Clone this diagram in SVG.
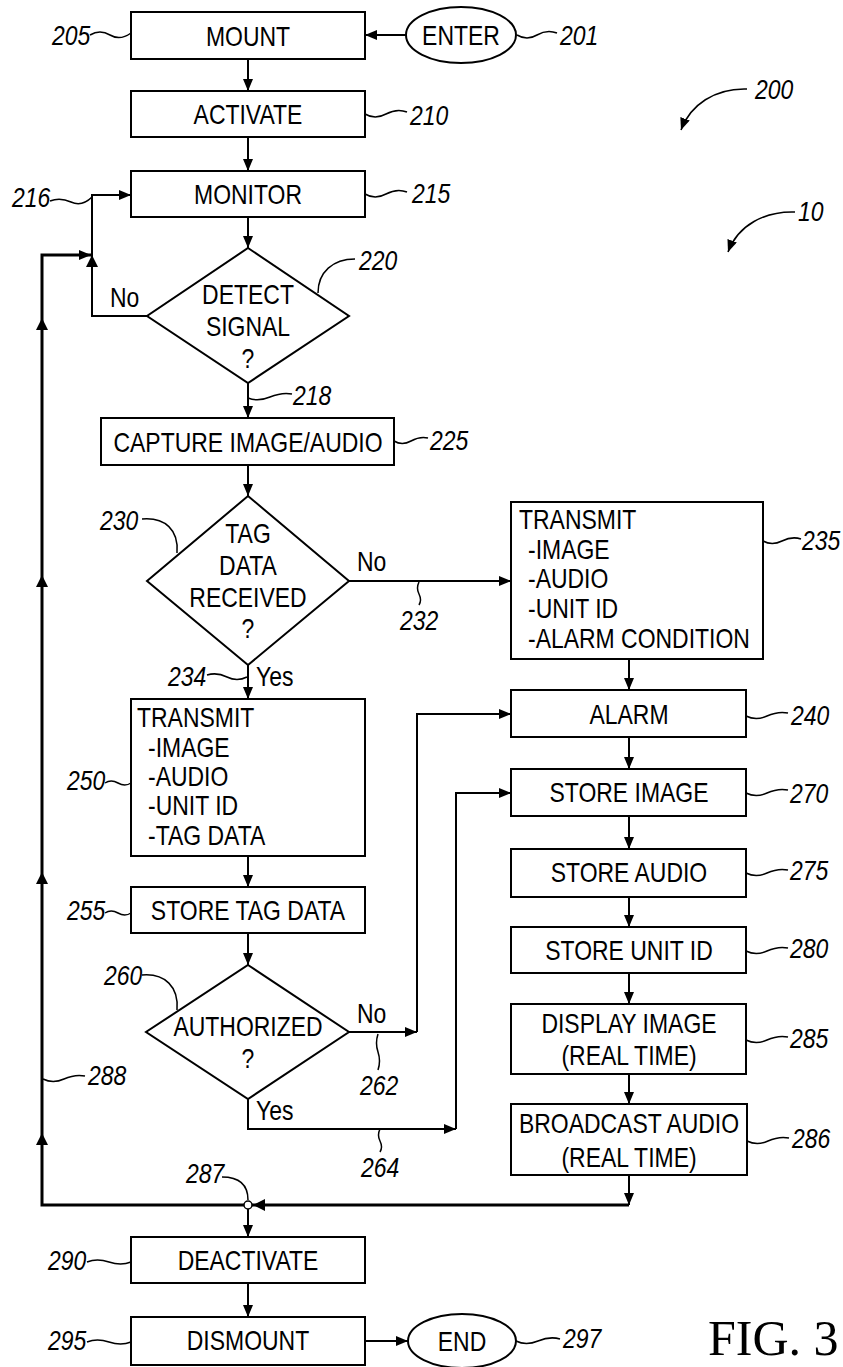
<svg xmlns="http://www.w3.org/2000/svg" width="843" height="1367" viewBox="0 0 843 1367">
<style>
.bx{fill:#fff;stroke:#000;stroke-width:2}
.ln{fill:none;stroke:#000;stroke-width:2}
.thk{fill:none;stroke:#000;stroke-width:3}
.ld{fill:none;stroke:#000;stroke-width:1.5}
.t{font-family:"Liberation Sans",Arial,sans-serif;font-size:28px;fill:#000}
.c{text-anchor:middle}
.n{font-style:italic}
.fig{font-family:"Liberation Serif","Times New Roman",serif;font-size:50px;fill:#000}
</style>
<defs>
<marker id="ah" markerUnits="userSpaceOnUse" markerWidth="12" markerHeight="10" refX="12" refY="5" orient="auto">
<path d="M0,0 L12,5 L0,10 z" fill="#000"/>
</marker>
</defs>
<rect width="843" height="1367" fill="#fff"/>

<g id="connectors">
<path class="ln" d="M406,35 H365" marker-end="url(#ah)"/>
<path class="ln" d="M248,59 V91" marker-end="url(#ah)"/>
<path class="ln" d="M248,137 V171" marker-end="url(#ah)"/>
<path class="ln" d="M248,217 V248" marker-end="url(#ah)"/>
<path class="ln" d="M147,316 H92 V195 H131" marker-end="url(#ah)"/>
<path class="ln" d="M248,383 V418" marker-end="url(#ah)"/>
<path class="ln" d="M248,465 V496" marker-end="url(#ah)"/>
<path class="ln" d="M349,581 H511" marker-end="url(#ah)"/>
<path class="ln" d="M248,665 V699" marker-end="url(#ah)"/>
<path class="ln" d="M629,659 V690" marker-end="url(#ah)"/>
<path class="ln" d="M629,737 V769" marker-end="url(#ah)"/>
<path class="ln" d="M248,856 V887" marker-end="url(#ah)"/>
<path class="ln" d="M248,933 V965" marker-end="url(#ah)"/>
<path class="ln" d="M349,1032 H417" marker-end="url(#ah)"/>
<path class="ln" d="M417,1032 V714 H511" marker-end="url(#ah)"/>
<path class="ln" d="M248,1099 V1129 H456" marker-end="url(#ah)"/>
<path class="ln" d="M456,1129 V793 H511" marker-end="url(#ah)"/>
<path class="ln" d="M629,816 V849" marker-end="url(#ah)"/>
<path class="ln" d="M629,897 V927" marker-end="url(#ah)"/>
<path class="ln" d="M629,973 V1004" marker-end="url(#ah)"/>
<path class="ln" d="M629,1074 V1104" marker-end="url(#ah)"/>
<path class="ln" d="M629,1175 V1205" marker-end="url(#ah)"/>
<path class="thk" d="M629,1205 H42 V255 H91" marker-end="url(#ah)"/>
<polygon points="253,1205 265,1199 265,1211" fill="#000"/>
<polygon points="42,318 36,330 48,330" fill="#000"/>
<polygon points="42,575 36,587 48,587" fill="#000"/>
<polygon points="42,872 36,884 48,884" fill="#000"/>
<polygon points="42,1133 36,1145 48,1145" fill="#000"/>
<polygon points="92,255 86,267 98,267" fill="#000"/>
<circle cx="248" cy="1205" r="4" fill="#fff" stroke="#000" stroke-width="1.5"/>
<path class="ln" d="M248,1209 V1237" marker-end="url(#ah)"/>
<path class="ln" d="M248,1283 V1317" marker-end="url(#ah)"/>
<path class="ln" d="M365,1341 H408" marker-end="url(#ah)"/>
<path class="ld" d="M747,89 C715,88 690,105 681,130" marker-end="url(#ah)"/>
<path class="ld" d="M795,212 C765,211 738,225 728,252" marker-end="url(#ah)"/>
</g>

<g id="leaders">
<path class="ld" d="M90,35 q10,-6 20,0 t21,-2"/>
<path class="ld" d="M517,35 q10,6 20,0 t20,-2"/>
<path class="ld" d="M365,114 q10,6 21,0 t21,-2"/>
<path class="ld" d="M365,194 q10,6 21,0 t21,-2"/>
<path class="ld" d="M50,201 q10,-4 21,1 t21,-5"/>
<path class="ld" d="M318,293 C318,272 333,259 355,259"/>
<path class="ld" d="M248,398 q10,4 22,-1 t22,-3"/>
<path class="ld" d="M394,441 q8,5 17,0 t17,-3"/>
<path class="ld" d="M142,519 C165,517 179,530 177,553"/>
<path class="ld" d="M419,582 q-3,6 0,12 t0,11"/>
<path class="ld" d="M763,541 q9,5 19,0 t19,-2"/>
<path class="ld" d="M207,675 q10,-3 20,2 t20,0"/>
<path class="ld" d="M746,716 q10,5 21,0 t21,-3"/>
<path class="ld" d="M105,783 q6,-4 13,0 t13,0"/>
<path class="ld" d="M105,913 q6,-4 13,0 t13,0"/>
<path class="ld" d="M142,975 C165,973 179,987 177,1010"/>
<path class="ld" d="M378,1034 q-3,9 0,18 t0,18"/>
<path class="ld" d="M43,1079 q10,5 21,0 t21,-3"/>
<path class="ld" d="M380,1129 q-3,6 0,12 t0,11"/>
<path class="ld" d="M746,793 q10,5 21,0 t21,-3"/>
<path class="ld" d="M746,873 q10,5 21,0 t21,-3"/>
<path class="ld" d="M746,951 q10,5 21,0 t21,-3"/>
<path class="ld" d="M746,1040 q10,5 21,0 t21,-3"/>
<path class="ld" d="M747,1141 q10,5 21,0 t21,-3"/>
<path class="ld" d="M222,1177 C240,1177 248,1185 248,1200"/>
<path class="ld" d="M87,1262 q10,-4 22,0 t22,0"/>
<path class="ld" d="M87,1342 q10,-4 22,0 t22,0"/>
<path class="ld" d="M516,1341 q10,5 22,0 t22,-2"/>
</g>

<g id="n201"><ellipse class="bx" cx="461" cy="35" rx="55" ry="28"/><text class="t c" transform="matrix(.82 0 0 1 461 45)">ENTER</text></g>
<g id="n205"><rect class="bx" x="131" y="12" width="234" height="47"/><text class="t c" transform="matrix(.82 0 0 1 248 46)">MOUNT</text></g>
<g id="n210"><rect class="bx" x="131" y="91" width="234" height="46"/><text class="t c" transform="matrix(.82 0 0 1 248 124)">ACTIVATE</text></g>
<g id="n215"><rect class="bx" x="131" y="171" width="234" height="46"/><text class="t c" transform="matrix(.82 0 0 1 248 204)">MONITOR</text></g>
<g id="n220"><polygon class="bx" points="248,248 349,316 248,383 147,316"/><text class="t c" transform="matrix(.82 0 0 1 248 304)">DETECT</text><text class="t c" transform="matrix(.82 0 0 1 248 336)">SIGNAL</text><text class="t c" transform="matrix(.82 0 0 1 248 368)">?</text></g>
<g id="n225"><rect class="bx" x="101" y="418" width="293" height="47"/><text class="t c" transform="matrix(.82 0 0 1 248 452)">CAPTURE IMAGE/AUDIO</text></g>
<g id="n230"><polygon class="bx" points="248,496 349,581 248,665 147,581"/><text class="t c" transform="matrix(.82 0 0 1 248 543)">TAG</text><text class="t c" transform="matrix(.82 0 0 1 248 575)">DATA</text><text class="t c" transform="matrix(.82 0 0 1 248 607)">RECEIVED</text><text class="t c" transform="matrix(.82 0 0 1 248 638)">?</text></g>
<g id="n235"><rect class="bx" x="511" y="502" width="252" height="157"/><text class="t" transform="matrix(.82 0 0 1 519 529)">TRANSMIT</text><text class="t" transform="matrix(.82 0 0 1 528 559)">-IMAGE</text><text class="t" transform="matrix(.82 0 0 1 528 588)">-AUDIO</text><text class="t" transform="matrix(.82 0 0 1 528 618)">-UNIT ID</text><text class="t" transform="matrix(.82 0 0 1 528 648)">-ALARM CONDITION</text></g>
<g id="n240"><rect class="bx" x="511" y="690" width="235" height="47"/><text class="t c" transform="matrix(.82 0 0 1 629 724)">ALARM</text></g>
<g id="n250"><rect class="bx" x="131" y="699" width="234" height="157"/><text class="t" transform="matrix(.82 0 0 1 137 727)">TRANSMIT</text><text class="t" transform="matrix(.82 0 0 1 148 757)">-IMAGE</text><text class="t" transform="matrix(.82 0 0 1 148 786)">-AUDIO</text><text class="t" transform="matrix(.82 0 0 1 148 815)">-UNIT ID</text><text class="t" transform="matrix(.82 0 0 1 148 845)">-TAG DATA</text></g>
<g id="n255"><rect class="bx" x="131" y="887" width="234" height="46"/><text class="t c" transform="matrix(.82 0 0 1 248 920)">STORE TAG DATA</text></g>
<g id="n260"><polygon class="bx" points="248,965 349,1032 248,1099 146,1032"/><text class="t c" transform="matrix(.82 0 0 1 248 1036)">AUTHORIZED</text><text class="t c" transform="matrix(.82 0 0 1 248 1068)">?</text></g>
<g id="n270"><rect class="bx" x="511" y="769" width="235" height="47"/><text class="t c" transform="matrix(.82 0 0 1 629 802)">STORE IMAGE</text></g>
<g id="n275"><rect class="bx" x="511" y="849" width="235" height="48"/><text class="t c" transform="matrix(.82 0 0 1 629 882)">STORE AUDIO</text></g>
<g id="n280"><rect class="bx" x="511" y="927" width="235" height="46"/><text class="t c" transform="matrix(.82 0 0 1 629 960)">STORE UNIT ID</text></g>
<g id="n285"><rect class="bx" x="511" y="1004" width="235" height="70"/><text class="t c" transform="matrix(.82 0 0 1 629 1033)">DISPLAY IMAGE</text><text class="t c" transform="matrix(.82 0 0 1 629 1065)">(REAL TIME)</text></g>
<g id="n286"><rect class="bx" x="511" y="1104" width="236" height="71"/><text class="t c" transform="matrix(.82 0 0 1 629 1133)">BROADCAST AUDIO</text><text class="t c" transform="matrix(.82 0 0 1 629 1167)">(REAL TIME)</text></g>
<g id="n290"><rect class="bx" x="131" y="1237" width="234" height="46"/><text class="t c" transform="matrix(.82 0 0 1 248 1270)">DEACTIVATE</text></g>
<g id="n295"><rect class="bx" x="131" y="1317" width="234" height="48"/><text class="t c" transform="matrix(.82 0 0 1 248 1350)">DISMOUNT</text></g>
<g id="n297"><ellipse class="bx" cx="462" cy="1341" rx="54" ry="27"/><text class="t c" transform="matrix(.82 0 0 1 462 1351)">END</text></g>

<g id="labels">
<text class="t n" transform="matrix(.82 0 0 1 52 45)">205</text>
<text class="t n" transform="matrix(.82 0 0 1 560 45)">201</text>
<text class="t n" transform="matrix(.82 0 0 1 410 125)">210</text>
<text class="t n" transform="matrix(.82 0 0 1 412 203)">215</text>
<text class="t n" transform="matrix(.82 0 0 1 12 207)">216</text>
<text class="t n" transform="matrix(.82 0 0 1 359 270)">220</text>
<text class="t n" transform="matrix(.82 0 0 1 293 405)">218</text>
<text class="t n" transform="matrix(.82 0 0 1 430 450)">225</text>
<text class="t n" transform="matrix(.82 0 0 1 100 530)">230</text>
<text class="t" transform="matrix(.82 0 0 1 110 307)">No</text>
<text class="t" transform="matrix(.82 0 0 1 357 571)">No</text>
<text class="t n" transform="matrix(.82 0 0 1 400 630)">232</text>
<text class="t n" transform="matrix(.82 0 0 1 802 550)">235</text>
<text class="t n" transform="matrix(.82 0 0 1 168 686)">234</text>
<text class="t" transform="matrix(.82 0 0 1 256 686)">Yes</text>
<text class="t n" transform="matrix(.82 0 0 1 791 725)">240</text>
<text class="t n" transform="matrix(.82 0 0 1 67 790)">250</text>
<text class="t n" transform="matrix(.82 0 0 1 67 920)">255</text>
<text class="t n" transform="matrix(.82 0 0 1 104 985)">260</text>
<text class="t" transform="matrix(.82 0 0 1 357 1023)">No</text>
<text class="t n" transform="matrix(.82 0 0 1 360 1095)">262</text>
<text class="t n" transform="matrix(.82 0 0 1 88 1085)">288</text>
<text class="t" transform="matrix(.82 0 0 1 256 1120)">Yes</text>
<text class="t n" transform="matrix(.82 0 0 1 361 1177)">264</text>
<text class="t n" transform="matrix(.82 0 0 1 790 803)">270</text>
<text class="t n" transform="matrix(.82 0 0 1 790 880)">275</text>
<text class="t n" transform="matrix(.82 0 0 1 790 958)">280</text>
<text class="t n" transform="matrix(.82 0 0 1 790 1048)">285</text>
<text class="t n" transform="matrix(.82 0 0 1 792 1148)">286</text>
<text class="t n" transform="matrix(.82 0 0 1 186 1183)">287</text>
<text class="t n" transform="matrix(.82 0 0 1 48 1270)">290</text>
<text class="t n" transform="matrix(.82 0 0 1 48 1350)">295</text>
<text class="t n" transform="matrix(.82 0 0 1 563 1348)">297</text>
<text class="t n" transform="matrix(.82 0 0 1 755 99)">200</text>
<text class="t n" transform="matrix(.82 0 0 1 798 221)">10</text>
<text class="fig" x="708" y="1355">FIG. 3</text>
</g>
</svg>
